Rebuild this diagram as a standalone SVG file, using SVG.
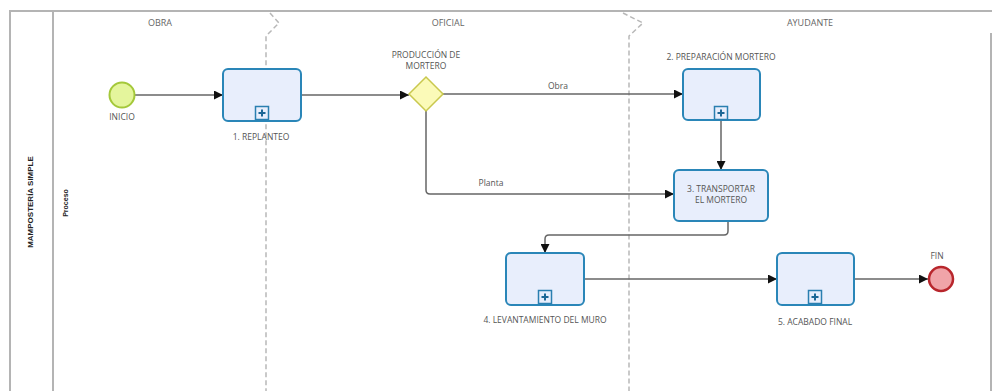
<svg xmlns="http://www.w3.org/2000/svg" width="992" height="391" viewBox="0 0 992 391">
  <defs>
    <marker id="arrow" viewBox="0 0 10 10" refX="10" refY="5" markerWidth="9" markerHeight="9" markerUnits="userSpaceOnUse" orient="auto">
      <path d="M0,0 L10,5 L0,10 z" fill="#111"/>
    </marker>
    <g id="plus">
      <rect x="-6.5" y="-6.5" width="13" height="13" fill="#e8eefc" stroke="#2a7fb0" stroke-width="1.5"/>
      <path d="M-3.5,0 H3.5 M0,-3.5 V3.5" stroke="#1d6796" stroke-width="2"/>
    </g>
  </defs>
  <style>
    .frame { fill: none; stroke: #b4b4b4; stroke-width: 2; }
    .lane { fill: none; stroke: #b8b8b8; stroke-width: 1.5; stroke-dasharray: 5 3; }
    .flow { fill: none; stroke: #666; stroke-width: 1.5; marker-end: url(#arrow); }
    .task { fill: #e8eefc; stroke: #2a86b8; stroke-width: 2; }
    .lbl { font-family: "Open Sans", "Noto Sans", sans-serif; font-size: 8.5px; fill: #555; text-anchor: middle; }
    .head { font-family: "Open Sans", "Noto Sans", sans-serif; font-size: 9px; fill: #666; text-anchor: middle; }
    .pool { font-family: "Liberation Sans", Arial, sans-serif; font-size: 8px; font-weight: bold; fill: #222; text-anchor: middle; }
  </style>

  <rect width="992" height="391" fill="#fff"/>

  <!-- pool frame -->
  <g id="pool">
    <path class="frame" d="M10,391 V11 H992"/>
    <path class="frame" d="M53,11 V391"/>
    <path class="frame" d="M991,33 V391"/>
    <text class="pool" transform="translate(33,202) rotate(-90)">MAMPOSTERÍA SIMPLE</text>
    <text class="pool" style="font-size:7px" transform="translate(68,203) rotate(-90)">Proceso</text>
  </g>

  <!-- lanes -->
  <g id="lanes">
    <path class="lane" d="M270,13 L279,23 L266,36 V391"/>
    <path class="lane" d="M623,13 L643,23 L629,36 V391"/>
    <text class="head" x="160" y="26">OBRA</text>
    <text class="head" x="448" y="26">OFICIAL</text>
    <text class="head" x="810" y="26">AYUDANTE</text>
  </g>

  <!-- connectors -->
  <g id="connectors">
    <path class="flow" d="M135,95 H223"/>
    <path class="flow" d="M301,95 H409"/>
    <path class="flow" d="M443,94 H683"/>
    <text class="lbl" x="558" y="89">Obra</text>
    <path class="flow" d="M426,111 V190 Q426,194 430,194 H674"/>
    <text class="lbl" x="491" y="186">Planta</text>
    <path class="flow" d="M721,120 V170"/>
    <path class="flow" d="M728,221 V231 Q728,235 724,235 H549 Q545,235 545,239 V253"/>
    <path class="flow" d="M584,279 H777"/>
    <path class="flow" d="M854,279 H928"/>
  </g>

  <!-- start event -->
  <g id="inicio">
    <circle cx="122" cy="95" r="12.5" fill="#e4f59c" stroke="#a4c83a" stroke-width="2"/>
    <text class="lbl" x="122" y="120">INICIO</text>
  </g>

  <g id="task1">
    <rect class="task" x="223" y="69" width="78" height="52" rx="5"/>
    <use href="#plus" x="262" y="113"/>
    <text class="lbl" x="261" y="140">1. REPLANTEO</text>
  </g>

  <g id="gateway">
    <path d="M409,94 L426,77 L443,94 L426,111 Z" fill="#fbfab8" stroke="#c9c84e" stroke-width="1.5"/>
    <text class="lbl" x="426" y="58">PRODUCCIÓN DE</text>
    <text class="lbl" x="426" y="69">MORTERO</text>
  </g>

  <g id="task2">
    <rect class="task" x="683" y="69" width="77" height="51" rx="5"/>
    <use href="#plus" x="721" y="113"/>
    <text class="lbl" x="721" y="60">2. PREPARACIÓN MORTERO</text>
  </g>

  <g id="task3">
    <rect class="task" x="674" y="170" width="94" height="51" rx="5"/>
    <text class="lbl" x="721" y="192">3. TRANSPORTAR</text>
    <text class="lbl" x="721" y="203">EL MORTERO</text>
  </g>

  <g id="task4">
    <rect class="task" x="506" y="253" width="78" height="52" rx="5"/>
    <use href="#plus" x="545" y="297"/>
    <text class="lbl" x="545" y="323">4. LEVANTAMIENTO DEL MURO</text>
  </g>

  <g id="task5">
    <rect class="task" x="777" y="253" width="77" height="52" rx="5"/>
    <use href="#plus" x="815" y="297"/>
    <text class="lbl" x="815" y="325">5. ACABADO FINAL</text>
  </g>

  <g id="fin">
    <circle cx="941" cy="279" r="12" fill="#f0a4a8" stroke="#b8262c" stroke-width="2.5"/>
    <text class="lbl" x="937" y="259">FIN</text>
  </g>
</svg>
